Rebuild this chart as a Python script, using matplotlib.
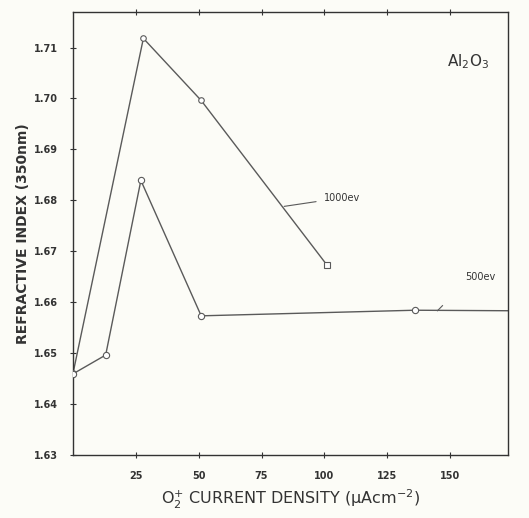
import numpy as np
import matplotlib.pyplot as plt

# 1000 eV series
x_1000 = [0, 28, 51, 101]
y_1000 = [1.646, 1.7118, 1.6996, 1.6673]

# 500 eV series (last point is the line running out to the frame)
x_500 = [0, 13, 27, 51, 136, 173]
y_500 = [1.6459, 1.6496, 1.6839, 1.6573, 1.6584, 1.6583]

x_ticks = [25, 50, 75, 100, 125, 150]
y_ticks = [1.63, 1.64, 1.65, 1.66, 1.67, 1.68, 1.69, 1.70, 1.71]

fig = plt.figure(figsize=(5.29, 5.18), dpi=100)
fig.patch.set_facecolor('#fcfcf7')
ax = fig.add_axes([0.138, 0.122, 0.822, 0.855])
ax.set_facecolor('#fcfcf7')

line_col = '#5a5a5a'
ax.plot(x_1000, y_1000, color=line_col, linewidth=1.0, zorder=2)
ax.plot(x_1000[:-1], y_1000[:-1], 'o', ms=4, mfc='white', mec=line_col, mew=0.8, zorder=3)
ax.plot(x_1000[-1:], y_1000[-1:], 's', ms=4, mfc='white', mec=line_col, mew=0.8, zorder=3)

ax.plot(x_500, y_500, color=line_col, linewidth=1.0, zorder=2)
ax.plot(x_500[:-1], y_500[:-1], 'o', ms=4.5, mfc='white', mec=line_col, mew=0.8, zorder=3)

ax.set_xlim(0, 173)
ax.set_ylim(1.63, 1.717)
ax.set_xticks(x_ticks)
ax.set_xticklabels([str(t) for t in x_ticks])
ax.set_yticks(y_ticks)
ax.set_yticklabels(['%.2f' % t for t in y_ticks])
ax.tick_params(axis='both', direction='inout', length=5, width=0.8,
               labelsize=7, colors='#333333')
ax.tick_params(axis='x', top=True, pad=9)
ax.tick_params(axis='y', pad=8)
for lab in ax.get_xticklabels() + ax.get_yticklabels():
    lab.set_fontweight('bold')
for s in ax.spines.values():
    s.set_linewidth(1.0)
    s.set_color('#333333')

ax.set_ylabel('REFRACTIVE INDEX (350nm)', fontsize=10, fontweight='bold',
              color='#333333', labelpad=3)
ax.set_xlabel('O$_2^{+}$ CURRENT DENSITY (μAcm$^{-2}$)', fontsize=11.5,
              color='#333333', labelpad=5)

ax.text(0.86, 0.887, r'Al$_2$O$_3$', transform=ax.transAxes, fontsize=11,
        color='#333333', va='center')
ax.annotate('1000ev', xy=(84, 1.6788), xytext=(100, 1.6805), fontsize=7,
            color='#333333', va='center',
            arrowprops=dict(arrowstyle='-', color=line_col, lw=0.8,
                            shrinkA=4, shrinkB=0))
ax.text(156, 1.6649, '500ev', fontsize=7, color='#333333', va='center')
ax.plot([145, 147], [1.6583, 1.6593], color=line_col, lw=0.8)

fig.savefig('out.png', dpi=100, facecolor=fig.get_facecolor())
